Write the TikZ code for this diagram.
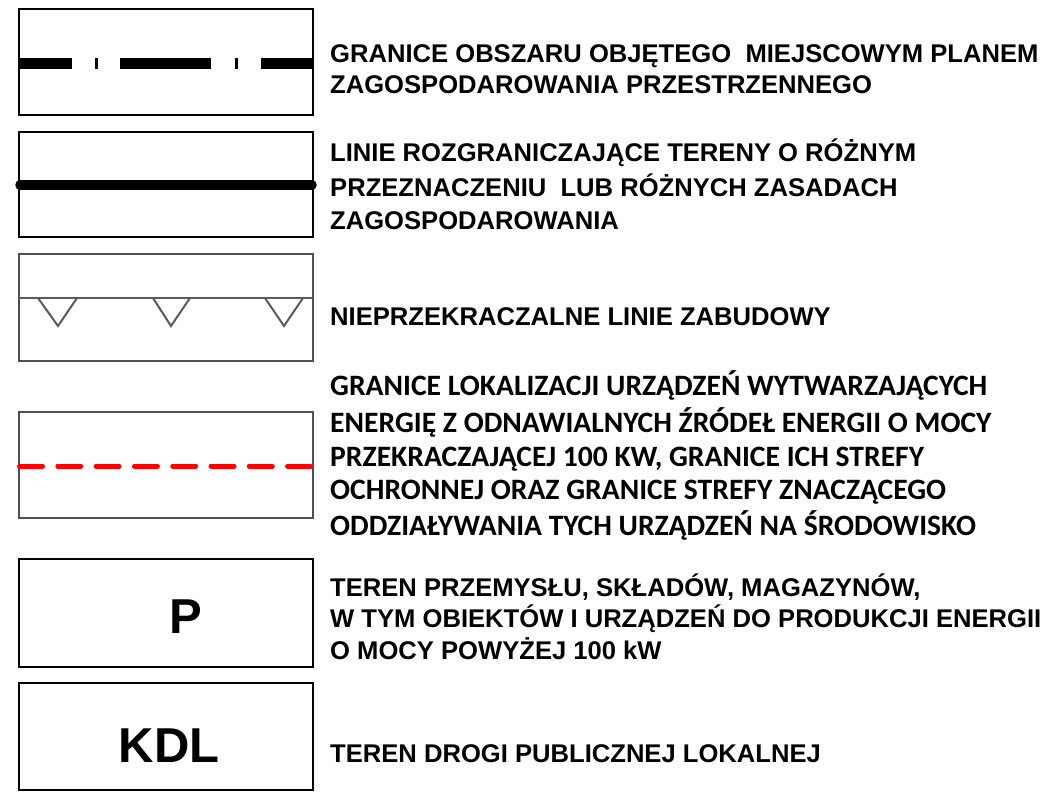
\documentclass[tikz,border=0pt]{standalone}
\usepackage{fontspec}
\setmainfont{Liberation Sans}
\newfontfamily\arialb{Liberation Sans Bold}
\newfontfamily\calb{Carlito Bold}
\definecolor{boxgray}{HTML}{505050}
\definecolor{symgray}{HTML}{5A5A5A}
\tikzset{
  legbox/.style={draw=black, line width=1.3pt},
  legboxg/.style={draw=boxgray, line width=1.3pt},
  atxt/.style={anchor=base west, inner sep=0pt, font=\arialb\fontsize{25.6pt}{30pt}\selectfont},
  ctxt/.style={anchor=base west, inner sep=0pt, font=\calb\fontsize{29.6pt}{35pt}\selectfont},
  bigtxt/.style={anchor=base, inner sep=0pt, font=\arialb\fontsize{49pt}{56pt}\selectfont},
}
\begin{document}
\begin{tikzpicture}[x=1pt,y=-1pt]
\path[use as bounding box, fill=white] (0,0) rectangle (1047,795);

% --- boxes ---
\draw[legbox]  (19,9)   rectangle (313,115);
\draw[legbox]  (19,132) rectangle (313,237);
\draw[legboxg] (19,254) rectangle (313,361);
\draw[legboxg] (19,412) rectangle (313,518);
\draw[legbox]  (19,559) rectangle (313,667);
\draw[legbox]  (19,683) rectangle (313,790);

% --- symbol 1: dash-dot boundary ---
\draw[line width=10.5pt, line cap=butt,
      dash pattern=on 53pt off 23pt on 3pt off 22pt on 91pt off 24pt on 3pt off 23pt on 60pt]
      (19,63.5) -- (313,63.5);

% --- symbol 2: thick line ---
\draw[line width=9.5pt, line cap=round] (20,185) -- (312,185);

% --- symbol 3: building line with triangles ---
\draw[symgray, line width=2.4pt] (19,298) -- (313,298);
\draw[symgray, line width=2pt, line join=miter] (38,298) -- (58,326) -- (77,298);
\draw[symgray, line width=2pt, line join=miter] (153,298) -- (171,326) -- (190,298);
\draw[symgray, line width=2pt, line join=miter] (265,298) -- (284,326) -- (303,298);

% --- symbol 4: red dashed ---
\draw[red, line width=5pt, line cap=round, dash pattern=on 23pt off 15.3pt]
      (19.5,466) -- (312.5,466);

% --- symbols 5,6: letters ---
\node[bigtxt] (p) at (186,633) {P};
\node[bigtxt] (kdl) at (169,762) {KDL};

% --- texts ---
\node[atxt] (t1a) at (330,62) {GRANICE OBSZARU OBJĘTEGO\ \ MIEJSCOWYM PLANEM};
\node[atxt] (t1b) at (330,93) {ZAGOSPODAROWANIA PRZESTRZENNEGO};

\node[atxt] (t2a) at (330,161) {LINIE ROZGRANICZAJĄCE TERENY O RÓŻNYM};
\node[atxt] (t2b) at (330,196) {PRZEZNACZENIU\ \ LUB RÓŻNYCH ZASADACH};
\node[atxt] (t2c) at (330,229) {ZAGOSPODAROWANIA};

\node[atxt] (t3) at (330,325) {NIEPRZEKRACZALNE LINIE ZABUDOWY};

\node[ctxt] (t4a) at (330,395) {GRANICE LOKALIZACJI URZĄDZEŃ WYTWARZAJĄCYCH};
\node[ctxt] (t4b) at (330,432) {ENERGIĘ Z ODNAWIALNYCH ŹRÓDEŁ ENERGII O MOCY};
\node[ctxt] (t4c) at (330,466) {PRZEKRACZAJĄCEJ 100 KW, GRANICE ICH STREFY};
\node[ctxt] (t4d) at (330,499) {OCHRONNEJ ORAZ GRANICE STREFY ZNACZĄCEGO};
\node[ctxt] (t4e) at (330,535) {ODDZIAŁYWANIA TYCH URZĄDZEŃ NA ŚRODOWISKO};

\node[atxt] (t5a) at (330,596) {TEREN PRZEMYSŁU, SKŁADÓW, MAGAZYNÓW,};
\node[atxt] (t5b) at (330,627) {W TYM OBIEKTÓW I URZĄDZEŃ DO PRODUKCJI ENERGII};
\node[atxt] (t5c) at (330,659) {O MOCY POWYŻEJ 100 kW};

\node[atxt] (t6) at (330,762) {TEREN DROGI PUBLICZNEJ LOKALNEJ};
\end{tikzpicture}
\end{document}
